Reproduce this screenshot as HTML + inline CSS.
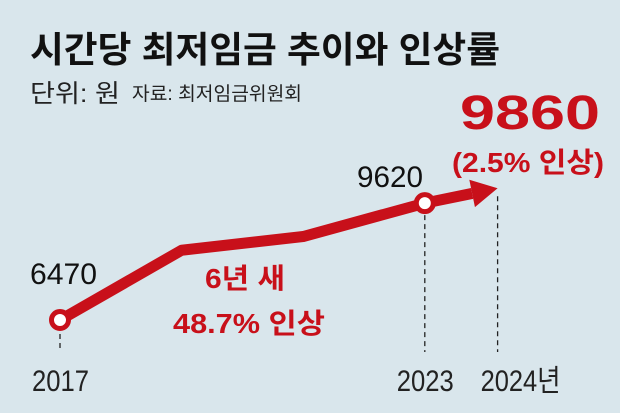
<!DOCTYPE html>
<html><head><meta charset="utf-8"><style>
html,body{margin:0;padding:0;background:#d9e6ec;}
svg{display:block;}
text{font-family:"Liberation Sans","Noto Sans CJK KR",sans-serif;}
</style></head><body>
<svg width="620" height="413" viewBox="0 0 620 413">
<rect width="620" height="413" fill="#d9e6ec"/>
<text x="30" y="62" font-size="36" font-weight="bold" fill="#111" textLength="470" lengthAdjust="spacingAndGlyphs">시간당 최저임금 추이와 인상률</text>
<text x="30" y="102" font-size="25" fill="#222" textLength="90" lengthAdjust="spacingAndGlyphs">단위: 원</text>
<text x="132" y="100" font-size="19" fill="#222" textLength="170" lengthAdjust="spacingAndGlyphs">자료: 최저임금위원회</text>
<g id="plot"></g>
</svg>
<script>
const years = [2017, 2019, 2021, 2023];
const wages = [6470, 8350, 8720, 9620];
const nextYear = 2024;
const nextWage = 9860;
const tickLabels = ["2017", "2023", "2024년"];
const tickYears = [2017, 2023, 2024];
const valueLabels = ["6470", "9620", "9860"];

const NS = "http://www.w3.org/2000/svg";
const g = document.getElementById("plot");
function x(yr){ return 60 + (yr - 2017) * 60.8; }
function y(v){ return 320 - (v - 6470) * 0.0371; }
function el(tag, attrs){ const e = document.createElementNS(NS, tag); for (const k in attrs) e.setAttribute(k, attrs[k]); g.appendChild(e); return e; }

const tipX = x(nextYear) + 12, tipY = y(nextWage) - 6;
// dashed guides
tickYears.forEach((yr, i) => {
  const gx = i === 2 ? tipX : x(yr);
  const top = i === 0 ? y(wages[0]) + 14 : (i === 1 ? y(wages[3]) + 12 : tipY + 8);
  const d = el("line", {x1: gx, x2: gx, y1: top, y2: 352, stroke: "#222", "stroke-width": 1.3, "stroke-dasharray": "5,4"});
  
  
});
// main line
const pts = years.map((yr, i) => x(yr) + "," + y(wages[i])).join(" ");
const line = el("polyline", {points: pts, fill: "none", stroke: "#c8101a", "stroke-width": 11, "stroke-linejoin": "round", "stroke-linecap": "round"});


// arrow segment
const x0 = x(2023), y0 = y(wages[3]);
const ang = Math.atan2(tipY - y0, tipX - x0);
const bx = tipX - 26 * Math.cos(ang), by = tipY - 26 * Math.sin(ang);
const seg = el("line", {x1: x0, y1: y0, x2: bx, y2: by, stroke: "#c8101a", "stroke-width": 11});


const px = -Math.sin(ang) * 14, py = Math.cos(ang) * 14;
const head = el("polygon", {points: `${tipX},${tipY} ${bx+px},${by+py} ${bx-px},${by-py}`, fill: "#c8101a"});


// markers
[0, 3].forEach(i => {
  const c = el("circle", {cx: x(years[i]), cy: y(wages[i]), r: 8.5, fill: "#fff", stroke: "#c8101a", "stroke-width": 5});
  
  
});
function txt(s, attrs, name){ const t = el("text", attrs); t.textContent = s;   return t; }
// year ticks
tickYears.forEach((yr, i) => {
  const tx = i === 2 ? tipX - 17 : x(yr) - 28;
  txt(tickLabels[i], {x: tx, y: 391, "font-size": 30, fill: "#222", textLength: i === 2 ? 80 : 57, lengthAdjust: "spacingAndGlyphs"}, 'x-tick-' + yr);
});
// value labels
txt(valueLabels[0], {x: 30, y: 284, "font-size": 30, fill: "#111", textLength: 67, lengthAdjust: "spacingAndGlyphs"}, 'value-label-2017');
txt(valueLabels[1], {x: 357, y: 187, "font-size": 30, fill: "#111", textLength: 66, lengthAdjust: "spacingAndGlyphs"}, 'value-label-2023');
txt(valueLabels[2], {x: 460, y: 129, "font-size": 48, "font-weight": "bold", fill: "#c8101a", textLength: 140, lengthAdjust: "spacingAndGlyphs"}, 'value-label-2024');
txt("(2.5% 인상)", {x: 452, y: 172, "font-size": 28, "font-weight": "bold", fill: "#c8101a", textLength: 152, lengthAdjust: "spacingAndGlyphs"}, 'increase-2024-label');
txt("6년 새", {x: 205, y: 288, "font-size": 28, "font-weight": "bold", fill: "#c8101a", textLength: 80, lengthAdjust: "spacingAndGlyphs"}, 'six-year-label');
txt("48.7% 인상", {x: 173, y: 333, "font-size": 28, "font-weight": "bold", fill: "#c8101a", textLength: 152, lengthAdjust: "spacingAndGlyphs"}, 'six-year-increase-label');
</script>
</body></html>
